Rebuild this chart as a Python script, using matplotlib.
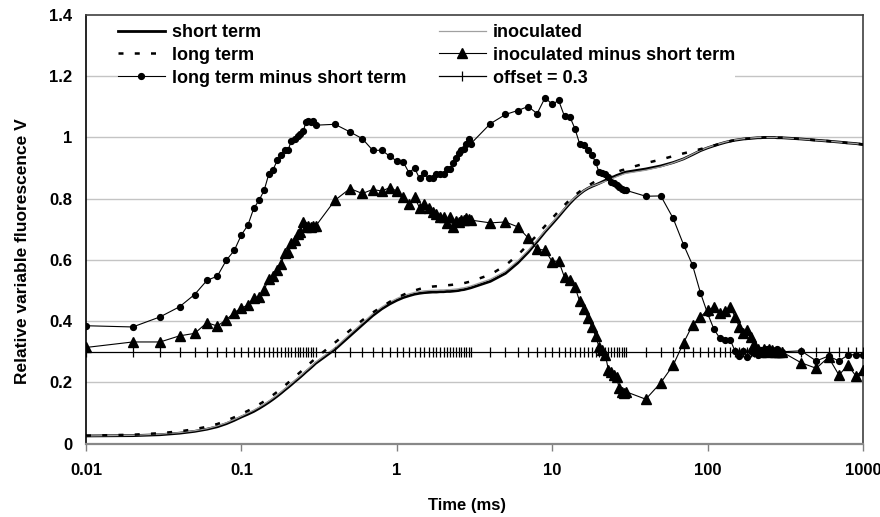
import matplotlib
matplotlib.use("Agg")
import matplotlib.pyplot as plt
from matplotlib.ticker import NullLocator, FixedLocator, FixedFormatter

plt.rcParams['font.family'] = ['Liberation Sans', 'DejaVu Sans']
plt.rcParams['font.weight'] = 'bold'

# ---------------- data ----------------
time_ms = [0.01, 0.02, 0.03, 0.04, 0.05, 0.06, 0.07, 0.08, 0.09, 0.10,
           0.11, 0.12, 0.13, 0.14, 0.15, 0.16, 0.17, 0.18, 0.19, 0.20,
           0.21, 0.22, 0.23, 0.24, 0.25, 0.26, 0.27, 0.28, 0.29, 0.30,
           0.4, 0.5, 0.6, 0.7, 0.8, 0.9, 1.0, 1.1, 1.2, 1.3,
           1.4, 1.5, 1.6, 1.7, 1.8, 1.9, 2.0, 2.1, 2.2, 2.3,
           2.4, 2.5, 2.6, 2.7, 2.8, 2.9, 3.0,
           4, 5, 6, 7, 8, 9, 10, 11, 12, 13,
           14, 15, 16, 17, 18, 19, 20, 21, 22, 23,
           24, 25, 26, 27, 28, 29, 30,
           40, 50, 60, 70, 80, 90, 100, 110, 120, 130,
           140, 150, 160, 170, 180, 190, 200, 210, 220, 230,
           240, 250, 260, 270, 280, 290, 300,
           400, 500, 600, 700, 800, 900, 1000]

short_term = [0.025, 0.026, 0.029, 0.034, 0.040, 0.047, 0.055, 0.065, 0.076, 0.087,
              0.096, 0.105, 0.115, 0.125, 0.135, 0.145, 0.155, 0.165, 0.175, 0.184,
              0.193, 0.202, 0.210, 0.218, 0.226, 0.234, 0.241, 0.248, 0.255, 0.262,
              0.308, 0.352, 0.388, 0.418, 0.440, 0.456, 0.468, 0.477, 0.483, 0.488,
              0.491, 0.493, 0.494, 0.495, 0.495, 0.496, 0.496, 0.497, 0.497, 0.498,
              0.499, 0.500, 0.502, 0.503, 0.505, 0.507, 0.509,
              0.530, 0.556, 0.590, 0.625, 0.660, 0.692, 0.718, 0.742, 0.765, 0.785,
              0.802, 0.815, 0.826, 0.834, 0.840, 0.845, 0.850, 0.855, 0.860, 0.865,
              0.869, 0.872, 0.876, 0.879, 0.882, 0.885, 0.887,
              0.897, 0.907, 0.918, 0.930, 0.944, 0.957, 0.966, 0.973, 0.979, 0.984,
              0.988, 0.991, 0.993, 0.995, 0.996, 0.997, 0.998, 0.999, 0.999, 1.000,
              1.000, 1.000, 1.000, 1.000, 0.999, 0.999, 0.999,
              0.995, 0.991, 0.988, 0.985, 0.982, 0.980, 0.977]

long_term = [0.026, 0.029, 0.034, 0.040, 0.047, 0.055, 0.064, 0.075, 0.086, 0.097,
             0.107, 0.117, 0.128, 0.138, 0.149, 0.159, 0.169, 0.179, 0.189, 0.199,
             0.208, 0.217, 0.226, 0.234, 0.242, 0.250, 0.258, 0.265, 0.272, 0.279,
             0.330, 0.370, 0.403, 0.428, 0.447, 0.463, 0.476, 0.486, 0.494, 0.500,
             0.505, 0.509, 0.511, 0.513, 0.514, 0.515, 0.516, 0.517, 0.518, 0.519,
             0.520, 0.521, 0.523, 0.524, 0.526, 0.528, 0.530,
             0.552, 0.582, 0.616, 0.650, 0.682, 0.711, 0.736, 0.759, 0.779, 0.797,
             0.811, 0.823, 0.833, 0.842, 0.850, 0.857, 0.863, 0.868, 0.873, 0.877,
             0.881, 0.884, 0.887, 0.890, 0.893, 0.895, 0.898,
             0.916, 0.928, 0.939, 0.948, 0.955, 0.962, 0.968, 0.974, 0.979, 0.984,
             0.988, 0.991, 0.993, 0.995, 0.996, 0.997, 0.998, 0.999, 0.999, 1.000,
             1.000, 1.000, 1.000, 1.000, 0.999, 0.999, 0.999,
             0.995, 0.991, 0.988, 0.985, 0.982, 0.980, 0.977]

inoculated = [0.025, 0.027, 0.031, 0.036, 0.042, 0.049, 0.058, 0.068, 0.079, 0.090,
              0.100, 0.109, 0.119, 0.129, 0.139, 0.149, 0.159, 0.169, 0.179, 0.188,
              0.197, 0.206, 0.214, 0.222, 0.230, 0.238, 0.245, 0.252, 0.259, 0.266,
              0.313, 0.358, 0.394, 0.424, 0.446, 0.462, 0.474, 0.483, 0.489, 0.494,
              0.497, 0.499, 0.500, 0.501, 0.501, 0.502, 0.502, 0.503, 0.503, 0.504,
              0.505, 0.506, 0.508, 0.509, 0.511, 0.513, 0.515,
              0.537, 0.563, 0.597, 0.631, 0.665, 0.696, 0.722, 0.746, 0.768, 0.788,
              0.804, 0.816, 0.827, 0.835, 0.841, 0.845, 0.849, 0.853, 0.857, 0.861,
              0.865, 0.868, 0.872, 0.875, 0.878, 0.881, 0.883,
              0.893, 0.904, 0.917, 0.930, 0.945, 0.958, 0.967, 0.974, 0.980, 0.985,
              0.989, 0.992, 0.994, 0.996, 0.997, 0.998, 0.999, 1.000, 1.000, 1.000,
              1.000, 1.000, 1.000, 1.000, 1.000, 0.999, 0.999,
              0.995, 0.991, 0.988, 0.985, 0.982, 0.980, 0.977]

long_minus_short = [0.385, 0.381, 0.414, 0.447, 0.487, 0.533, 0.547, 0.599, 0.631, 0.682,
                    0.713, 0.768, 0.795, 0.827, 0.880, 0.895, 0.925, 0.942, 0.958, 0.960,
                    0.990, 0.995, 1.005, 1.010, 1.020, 1.050, 1.055, 1.050, 1.055, 1.040,
                    1.043, 1.018, 0.996, 0.958, 0.958, 0.939, 0.923, 0.920, 0.884, 0.901,
                    0.866, 0.884, 0.866, 0.866, 0.880, 0.880, 0.880, 0.898, 0.898, 0.917,
                    0.934, 0.950, 0.960, 0.963, 0.980, 0.996, 0.980,
                    1.045, 1.075, 1.088, 1.101, 1.078, 1.130, 1.108, 1.121, 1.069, 1.067,
                    1.029, 0.980, 0.974, 0.960, 0.942, 0.920, 0.887, 0.885, 0.880, 0.870,
                    0.855, 0.850, 0.845, 0.838, 0.832, 0.828, 0.827,
                    0.808, 0.809, 0.736, 0.650, 0.583, 0.492, 0.425, 0.373, 0.344, 0.340,
                    0.338, 0.303, 0.286, 0.302, 0.284, 0.303, 0.296, 0.290, 0.305, 0.300,
                    0.310, 0.300, 0.305, 0.300, 0.310, 0.300, 0.300,
                    0.303, 0.270, 0.286, 0.270, 0.289, 0.291, 0.289]

inoc_minus_short = [0.314, 0.332, 0.332, 0.352, 0.360, 0.395, 0.384, 0.405, 0.428, 0.443,
                    0.452, 0.477, 0.479, 0.501, 0.539, 0.547, 0.566, 0.588, 0.621, 0.626,
                    0.654, 0.664, 0.686, 0.691, 0.724, 0.708, 0.712, 0.708, 0.712, 0.710,
                    0.795, 0.833, 0.817, 0.830, 0.825, 0.836, 0.825, 0.806, 0.782, 0.804,
                    0.771, 0.784, 0.771, 0.757, 0.751, 0.740, 0.740, 0.721, 0.740, 0.708,
                    0.727, 0.725, 0.730, 0.730, 0.738, 0.735, 0.730,
                    0.721, 0.724, 0.708, 0.672, 0.635, 0.632, 0.594, 0.597, 0.543, 0.536,
                    0.512, 0.466, 0.441, 0.409, 0.381, 0.352, 0.316, 0.305, 0.289, 0.240,
                    0.235, 0.224, 0.216, 0.180, 0.169, 0.164, 0.169,
                    0.145, 0.199, 0.256, 0.329, 0.387, 0.414, 0.436, 0.445, 0.425, 0.434,
                    0.447, 0.414, 0.381, 0.360, 0.371, 0.349, 0.325, 0.310, 0.300, 0.310,
                    0.300, 0.310, 0.305, 0.300, 0.300, 0.300, 0.300,
                    0.264, 0.246, 0.282, 0.224, 0.256, 0.221, 0.240]

offset_value = 0.3
offset_series = [offset_value] * len(time_ms)

x_ticks = [0.01, 0.1, 1, 10, 100, 1000]
x_tick_labels = ["0.01", "0.1", "1", "10", "100", "1000"]
y_ticks = [0, 0.2, 0.4, 0.6, 0.8, 1.0, 1.2, 1.4]
y_tick_labels = ["0", "0.2", "0.4", "0.6", "0.8", "1", "1.2", "1.4"]

# ---------------- figure ----------------
fig = plt.figure(figsize=(8.8, 5.17), dpi=100)
ax = fig.add_axes([86 / 880, 1 - 443.6 / 517, 777 / 880, 428.6 / 517])

ax.set_xscale('log')
ax.set_xlim(0.01, 1000)
ax.set_ylim(0, 1.4)

for yv in y_ticks[1:-1]:
    ax.axhline(yv, color='#c4c4c4', lw=1.0, zorder=0)

h_short, = ax.plot(time_ms, short_term, color='black', lw=2.0, zorder=3, label='short term')
h_inoc, = ax.plot(time_ms, inoculated, color='#a0a0a0', lw=0.9, zorder=3, label='inoculated')
h_long, = ax.plot(time_ms, long_term, color='black', lw=1.8, ls=(0, (2.0, 4.5)), zorder=3,
                  label='long term')
h_ims, = ax.plot(time_ms, inoc_minus_short, color='black', lw=0.8, marker='^', ms=7.5,
                 zorder=4, label='inoculated minus short term')
h_lms, = ax.plot(time_ms, long_minus_short, color='black', lw=0.8, marker='o', ms=4.2,
                 zorder=4, label='long term minus short term')
h_off, = ax.plot(time_ms, offset_series, color='black', lw=0.9, marker='|', ms=7,
                 mew=0.9, zorder=3, label='offset = 0.3')

ax.xaxis.set_major_locator(FixedLocator(x_ticks))
ax.xaxis.set_major_formatter(FixedFormatter(x_tick_labels))
ax.xaxis.set_minor_locator(NullLocator())
ax.yaxis.set_major_locator(FixedLocator(y_ticks))
ax.yaxis.set_major_formatter(FixedFormatter(y_tick_labels))

ax.tick_params(axis='x', direction='out', length=5, width=1, color='#808080',
               labelsize=12, pad=9)
ax.tick_params(axis='y', length=0, labelsize=12, pad=10)
for lbl in ax.get_xticklabels() + ax.get_yticklabels():
    lbl.set_fontweight('bold')

ax.spines['left'].set_color('black')
ax.spines['left'].set_linewidth(1.2)
ax.spines['bottom'].set_color('#888888')
ax.spines['bottom'].set_linewidth(1.6)
ax.spines['top'].set_color('#404040')
ax.spines['top'].set_linewidth(1.2)
ax.spines['right'].set_color('#404040')
ax.spines['right'].set_linewidth(1.2)

ax.set_xlabel('Time (ms)', fontsize=12, fontweight='bold')
ax.set_ylabel('Relative variable fluorescence V', fontsize=12.5, fontweight='bold')
ax.xaxis.set_label_coords(0.49, -0.126)
ax.yaxis.set_label_coords(-0.072, 0.45)

leg = ax.legend(handles=[h_short, h_long, h_lms, h_inoc, h_ims, h_off], ncol=2,
                loc='upper left', bbox_to_anchor=(0.0292, 1.0), frameon=True,
                facecolor='white', edgecolor='none', framealpha=1.0, fancybox=False,
                fontsize=13, handlelength=2.6, handletextpad=0.4, columnspacing=1.8,
                labelspacing=0.32, borderpad=0.0, numpoints=1)
for t in leg.get_texts():
    t.set_fontweight('bold')
leg.set_zorder(2)

fig.savefig('out.png', dpi=100)
